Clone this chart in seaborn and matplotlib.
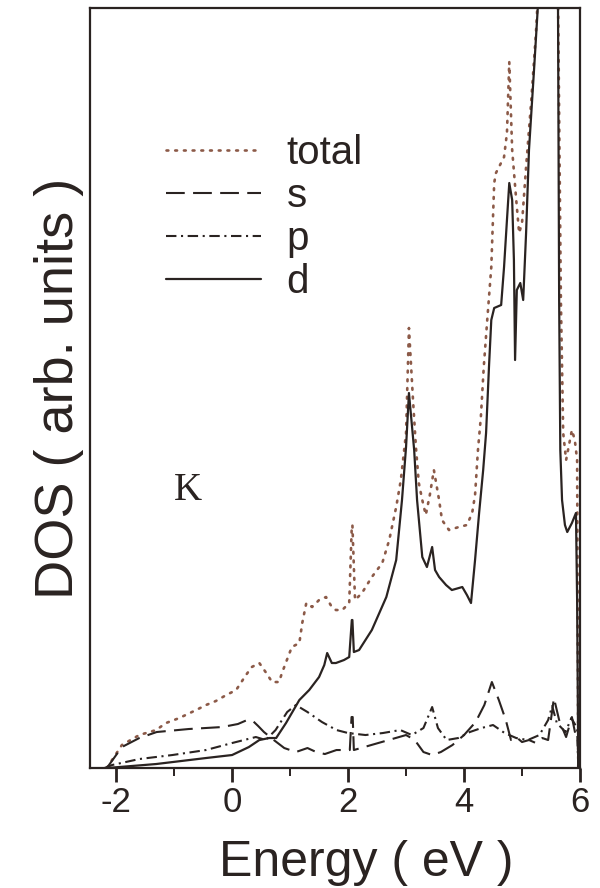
import numpy as np
import pandas as pd
import seaborn as sns
import matplotlib
matplotlib.use("Agg")
import matplotlib.pyplot as plt
from matplotlib.ticker import MultipleLocator

# ---- projected density of states for K (arbitrary units) ----
total_E = [-2.16, -1.9, -1.6, -1.31, -1.14, -0.91, -0.62, -0.45, -0.28, -0.1, 0.07, 0.24,
           0.34, 0.47, 0.59, 0.69, 0.81, 0.86, 1.03, 1.16, 1.21, 1.28, 1.38, 1.5, 1.62,
           1.72, 1.79, 1.9, 2.02, 2.065, 2.075, 2.12, 2.24, 2.41, 2.59, 2.71, 2.83, 2.91,
           3.0, 3.05, 3.12, 3.17, 3.22, 3.28, 3.34, 3.41, 3.48, 3.57, 3.62, 3.74, 3.91,
           4.05, 4.14, 4.19, 4.24, 4.29, 4.34, 4.4, 4.47, 4.52, 4.55, 4.69, 4.74, 4.78,
           4.83, 4.9, 4.95, 5.0, 5.07, 5.16, 5.24, 5.3, 5.45, 5.6, 5.67, 5.71, 5.76,
           5.81, 5.86, 5.91, 5.95, 5.97]
total_dos = [0, 23, 33, 38, 45, 50, 58, 63, 67, 73, 78, 93,
             101, 105, 95, 86, 86, 95, 121, 125, 145, 165, 161, 168, 171,
             161, 158, 158, 165, 243, 243, 168, 175, 191, 205, 228, 261, 288,
             335, 440, 368, 321, 285, 268, 253, 273, 298, 268, 248, 238, 241,
             243, 255, 273, 318, 351, 401, 448, 501, 585, 595, 611, 635, 706,
             618, 568, 535, 545, 601, 668, 735, 800, 900, 900, 468, 335, 308,
             323, 338, 328, 308, 0]

s_E = [-2.16, -1.9, -1.6, -1.3, -0.75, -0.17, 0.1, 0.26, 0.36, 0.45, 0.55, 0.72, 0.9,
       1.1, 1.3, 1.45, 1.6, 1.8, 2.03, 2.06, 2.08, 2.1, 2.4, 2.7, 3.0, 3.15, 3.3, 3.45,
       3.6, 3.8, 4.0, 4.2, 4.35, 4.48, 4.6, 4.72, 4.81, 4.9, 5.0, 5.12, 5.24, 5.35,
       5.45, 5.55, 5.64, 5.76, 5.86, 5.93, 5.96, 5.97]
s_dos = [0, 21, 30, 36, 39, 41, 44, 48, 47, 42, 36, 28, 20,
         16, 20, 16, 14, 18, 18, 51, 51, 18, 23, 28, 33, 28, 16, 13,
         16, 23, 33, 46, 63, 86, 68, 48, 28, 31, 26, 28, 25, 30,
         28, 70, 48, 31, 51, 31, 30, 0]

p_E = [-2.2, -2.07, -1.6, -1.03, -0.45, 0.0, 0.41, 0.58, 0.75, 0.95, 1.1, 1.3, 1.55,
       1.8, 2.0, 2.3, 2.6, 2.9, 3.1, 3.3, 3.45, 3.55, 3.7, 3.9, 4.1, 4.3, 4.5, 4.7,
       4.9, 5.1, 5.3, 5.45, 5.52, 5.6, 5.75, 5.85, 5.95, 5.97]
p_dos = [0, 3, 9, 13, 18, 25, 31, 28, 38, 56, 63, 56, 46,
         38, 35, 33, 35, 38, 33, 40, 61, 40, 28, 30, 36, 40, 43, 35,
         30, 28, 33, 48, 62, 45, 36, 50, 40, 0]

d_E = [-2.16, -1.31, -0.45, 0.0, 0.29, 0.47, 0.64, 0.76, 0.93, 1.16, 1.33, 1.5, 1.59,
       1.64, 1.72, 1.79, 1.93, 2.02, 2.065, 2.075, 2.1, 2.19, 2.41, 2.66, 2.83, 2.93,
       3.0, 3.05, 3.14, 3.19, 3.28, 3.36, 3.45, 3.5, 3.57, 3.69, 3.79, 3.97, 4.05,
       4.12, 4.19, 4.26, 4.33, 4.38, 4.43, 4.47, 4.52, 4.64, 4.69, 4.74, 4.78, 4.83,
       4.86, 4.88, 4.91, 4.97, 5.02, 5.07, 5.12, 5.21, 5.28, 5.4, 5.55, 5.62, 5.64,
       5.66, 5.69, 5.74, 5.78, 5.86, 5.93, 5.95, 5.97]
d_dos = [0, 4, 10, 13, 21, 28, 30, 30, 45, 68, 78, 91, 103,
         115, 105, 105, 108, 111, 148, 148, 116, 118, 138, 171, 208, 268,
         321, 375, 318, 268, 211, 201, 221, 198, 191, 183, 178, 181, 173,
         165, 208, 255, 298, 335, 401, 448, 460, 463, 501, 548, 585, 568,
         508, 408, 478, 485, 468, 535, 618, 701, 768, 900, 900, 768, 468,
         318, 268, 243, 236, 245, 255, 168, 0]

xticks = [-2, 0, 2, 4, 6]
xtick_labels = ["-2", "0", "2", "4", "6"]

ink = "#2a2321"
dot_color = "#8c5a48"

sns.set_theme(style="white")
plt.rcParams["font.family"] = ["Liberation Sans", "DejaVu Sans"]

fig = plt.figure(figsize=(6.0, 8.88), dpi=100)
ax = fig.add_axes([0.150, 0.1351, 0.8167, 0.8559])

series = [
    ("total", total_E, total_dos, dict(color=dot_color, lw=1.9, dashes=(0.7, 2.6),
                                       dash_capstyle="round")),
    ("s", s_E, s_dos, dict(color=ink, lw=1.5, dashes=(9, 4))),
    ("p", p_E, p_dos, dict(color=ink, lw=1.5, dashes=(5, 2.2, 1, 2.2))),
    ("d", d_E, d_dos, dict(color=ink, lw=1.6)),
]

for name, xs, ys, style in series:
    df = pd.DataFrame({"Energy": xs, "DOS": ys})
    sns.lineplot(data=df, x="Energy", y="DOS", ax=ax, estimator=None, sort=False,
                 label=name, **style)

ax.set_xlim(-2.45, 6.0)
ax.set_ylim(0, 760)
ax.set_xticks(xticks)
ax.set_xticklabels(xtick_labels)
ax.xaxis.set_minor_locator(MultipleLocator(1))
ax.set_yticks([])
ax.tick_params(axis="x", which="major", direction="out", length=10, width=2.0,
               color=ink, labelsize=25, labelcolor=ink, pad=3, bottom=True)
ax.tick_params(axis="x", which="minor", direction="out", length=6, width=1.4,
               color=ink, bottom=True)
for sp in ax.spines.values():
    sp.set_visible(True)
    sp.set_color(ink)
    sp.set_linewidth(1.6)

ax.set_xlabel("Energy ( eV )", fontsize=36, color=ink)
ax.xaxis.set_label_coords(0.563, -0.095, transform=ax.transAxes)
ax.xaxis.label.set_va("top")
ax.set_ylabel("DOS ( arb. units )", fontsize=39, color=ink, labelpad=4)

ax.text(0.172, 0.352, "K", transform=ax.transAxes, fontsize=28, color=ink,
        family=["Liberation Serif", "DejaVu Serif"])

leg = ax.legend(loc="upper left", bbox_to_anchor=(0.122, 0.855), frameon=False,
                fontsize=29, handlelength=2.35, handletextpad=0.65, labelspacing=0.12,
                borderaxespad=0)
for t in leg.get_texts():
    t.set_color(ink)

fig.savefig("out.png", dpi=100, facecolor="white")
